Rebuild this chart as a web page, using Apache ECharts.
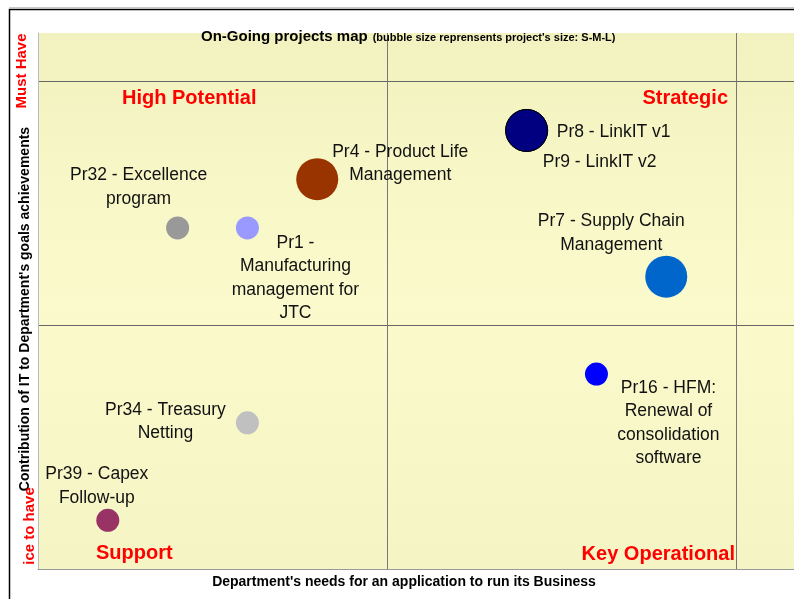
<!DOCTYPE html>
<html>
<head>
<meta charset="utf-8">
<script src="https://cdn.jsdelivr.net/npm/echarts@6/dist/echarts.min.js"></script>
<style>
html,body{margin:0;padding:0;background:#fff;}
#c{width:794px;height:599px;}
</style>
</head>
<body>
<div id="c"></div>
<script>
// ---- data ----
var projects = ["Pr8 - LinkIT v1", "Pr9 - LinkIT v2", "Pr7 - Supply Chain\nManagement", "Pr4 - Product Life\nManagement", "Pr32 - Excellence\nprogram", "Pr1 -\nManufacturing\nmanagement for\nJTC", "Pr16 - HFM:\nRenewal of\nconsolidation\nsoftware", "Pr34 - Treasury\nNetting", "Pr39 - Capex\nFollow-up"];
var needs = [1.4, 1.4, 1.8, 0.8, 0.4, 0.6, 1.6, 0.6, 0.2];          // x
var contribution = [1.8, 1.8, 1.2, 1.6, 1.4, 1.4, 0.8, 0.6, 0.2];   // y
var sizes = ["L", "L", "L", "L", "M", "M", "M", "M", "M"];
var quadrants = ["High Potential", "Strategic", "Support", "Key Operational"];

// ---- styles ----
var colors = ["#000080", "#000080", "#0066CC", "#993300", "#999999", "#9999FF", "#0000FF", "#C0C0C0", "#993366"];
var sizePx = {S: 14, M: 23, L: 42};
var labelOffsets = [[87, 1.5], [73, 31.5], [-55, -43.5], [83, -15.5], [-39, -40.5], [48, 50.5], [72, 49], [-82, -1], [-11, -34]];

var FONT = "'Liberation Sans', Arial, sans-serif";

var seriesData = projects.map(function (p, i) {
  return {
    name: p,
    value: [needs[i], contribution[i]],
    symbolSize: sizePx[sizes[i]],
    itemStyle: {
      color: colors[i],
      opacity: 1,
      borderColor: i < 2 ? '#000' : colors[i],
      borderWidth: i < 2 ? 1 : 0
    },
    label: {offset: labelOffsets[i]}
  };
});
// draw Pr9 below Pr8
seriesData = [seriesData[1], seriesData[0]].concat(seriesData.slice(2));

var chart = echarts.init(document.getElementById('c'), null, {renderer: 'canvas'});
var option = {
  animation: false,
  backgroundColor: '#ffffff',
  grid: {
    left: 38, top: 33, right: 0, bottom: 30,
    show: true,
    borderWidth: 0,
    backgroundColor: {
      type: 'linear', x: 0, y: 0, x2: 0, y2: 1,
      colorStops: [{offset: 0, color: '#F2F2C0'}, {offset: 0.5, color: '#FAFACC'}, {offset: 1, color: '#F4F4C4'}]
    }
  },
  title: {
    left: 196, top: 23,
    text: "{a|On-Going projects map} {b|(bubble size reprensents project's size: S-M-L)}",
    textStyle: {
      rich: {
        a: {fontFamily: FONT, fontWeight: 'bold', fontSize: 15, color: '#000'},
        b: {fontFamily: FONT, fontWeight: 'bold', fontSize: 11, color: '#000', padding: [2, 0, 0, 0]}
      }
    }
  },
  xAxis: {
    type: 'value', min: 0, max: 2.166, interval: 1,
    axisLabel: {show: false}, axisTick: {show: false},
    axisLine: {show: true, lineStyle: {color: '#999', width: 1}},
    splitLine: {show: true, showMinLine: false, showMaxLine: false, lineStyle: {color: '#777', width: 1}}
  },
  yAxis: {
    type: 'value', min: 0, max: 2.2, interval: 1,
    axisLabel: {show: false}, axisTick: {show: false},
    axisLine: {show: true, lineStyle: {color: '#bbb', width: 1}},
    splitLine: {show: true, showMinLine: false, showMaxLine: false, lineStyle: {color: '#666', width: 1}}
  },
  series: [{
    type: 'scatter',
    data: seriesData,
    itemStyle: {opacity: 1},
    label: {
      show: true,
      position: 'inside',
      formatter: function (p) { return p.name; },
      fontFamily: FONT, fontSize: 17.5, lineHeight: 23.5,
      color: '#111', align: 'center', verticalAlign: 'middle'
    },
    emphasis: {disabled: true}
  }],
  graphic: [
    {type: 'line', shape: {x1: 9, y1: 7.5, x2: 800, y2: 7.5}, style: {stroke: '#c8c8c8', lineWidth: 1}},
    {type: 'rect', shape: {x: 9.5, y: 9.5, width: 800, height: 600}, style: {fill: null, stroke: '#000', lineWidth: 1.5}},
    {type: 'text', left: 122, top: 88, style: {text: quadrants[0], fontFamily: FONT, fontWeight: 'bold', fontSize: 20, fill: '#ff0000'}},
    {type: 'text', right: 66, top: 88, style: {text: quadrants[1], fontFamily: FONT, fontWeight: 'bold', fontSize: 20, fill: '#ff0000'}},
    {type: 'text', left: 96, top: 543, style: {text: quadrants[2], fontFamily: FONT, fontWeight: 'bold', fontSize: 20, fill: '#ff0000'}},
    {type: 'text', right: 59, top: 544, style: {text: quadrants[3], fontFamily: FONT, fontWeight: 'bold', fontSize: 20, fill: '#ff0000'}},
    {type: 'text', x: 404, y: 582, style: {text: "Department's needs for an application to run its Business", fontFamily: FONT, fontWeight: 'bold', fontSize: 14, fill: '#000', align: 'center', verticalAlign: 'middle'}},
    {type: 'text', x: 25, y: 309, rotation: Math.PI / 2, style: {text: "Contribution of IT to Department's goals achievements", fontFamily: FONT, fontWeight: 'bold', fontSize: 14, fill: '#000', align: 'center', verticalAlign: 'middle'}},
    {type: 'text', x: 22, y: 71, rotation: Math.PI / 2, style: {text: "Must Have", fontFamily: FONT, fontWeight: 'bold', fontSize: 15, fill: '#ff0000', align: 'center', verticalAlign: 'middle'}},
    {type: 'text', x: 30, y: 526, rotation: Math.PI / 2, style: {text: "ice to have", fontFamily: FONT, fontWeight: 'bold', fontSize: 15, fill: '#ff0000', align: 'center', verticalAlign: 'middle'}}
  ]
};
chart.setOption(option);
</script>
</body>
</html>
